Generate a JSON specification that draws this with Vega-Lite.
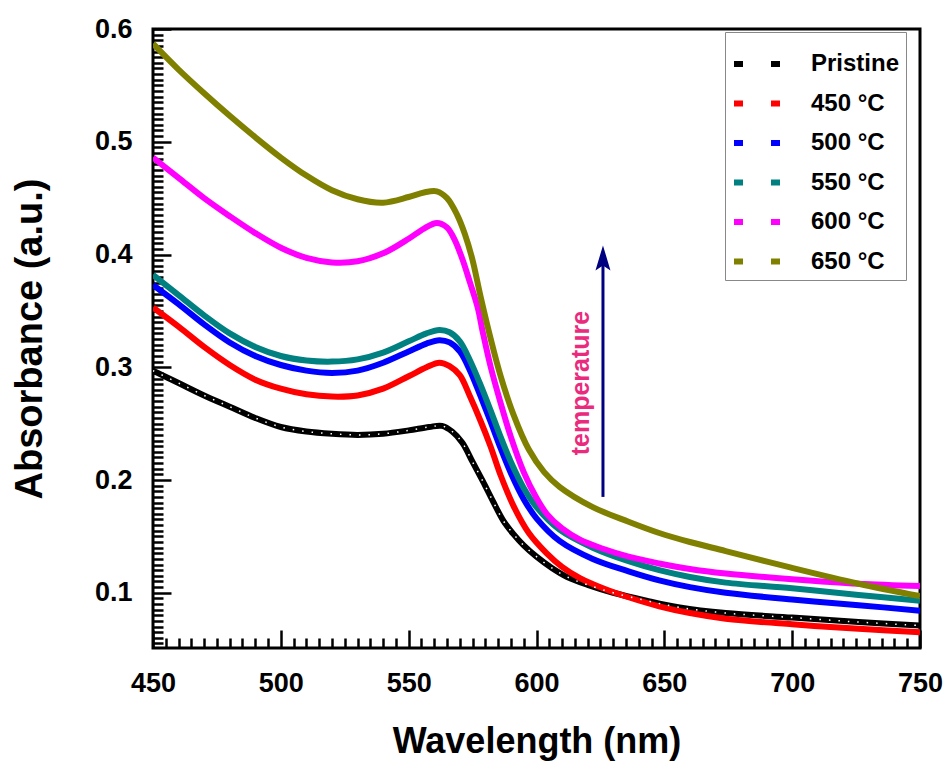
{
  "$schema": "https://vega.github.io/schema/vega-lite/v6.json",
  "width": 767,
  "height": 619,
  "autosize": {"type": "none"},
  "padding": {"left": 153, "top": 29, "right": 27, "bottom": 116},
  "background": "white",
  "config": {
    "view": {"stroke": "black", "strokeWidth": 3},
    "font": "Liberation Sans"
  },
  "datasets": {
    "curves": [
      {"s": "Pristine", "x": 450, "y": 0.297}, {"s": "Pristine", "x": 460, "y": 0.286}, {"s": "Pristine", "x": 470, "y": 0.275}, {"s": "Pristine", "x": 480, "y": 0.265}, {"s": "Pristine", "x": 490, "y": 0.255}, {"s": "Pristine", "x": 500, "y": 0.247}, {"s": "Pristine", "x": 510, "y": 0.243}, {"s": "Pristine", "x": 520, "y": 0.241}, {"s": "Pristine", "x": 530, "y": 0.240}, {"s": "Pristine", "x": 540, "y": 0.241}, {"s": "Pristine", "x": 550, "y": 0.244}, {"s": "Pristine", "x": 558, "y": 0.247}, {"s": "Pristine", "x": 563, "y": 0.248}, {"s": "Pristine", "x": 567, "y": 0.243}, {"s": "Pristine", "x": 571, "y": 0.233}, {"s": "Pristine", "x": 575, "y": 0.216}, {"s": "Pristine", "x": 579, "y": 0.199}, {"s": "Pristine", "x": 583, "y": 0.181}, {"s": "Pristine", "x": 587, "y": 0.164}, {"s": "Pristine", "x": 591, "y": 0.152}, {"s": "Pristine", "x": 595, "y": 0.142}, {"s": "Pristine", "x": 600, "y": 0.132}, {"s": "Pristine", "x": 606, "y": 0.122}, {"s": "Pristine", "x": 612, "y": 0.114}, {"s": "Pristine", "x": 620, "y": 0.107}, {"s": "Pristine", "x": 630, "y": 0.100}, {"s": "Pristine", "x": 643, "y": 0.093}, {"s": "Pristine", "x": 656, "y": 0.087}, {"s": "Pristine", "x": 674, "y": 0.082}, {"s": "Pristine", "x": 700, "y": 0.078}, {"s": "Pristine", "x": 726, "y": 0.074}, {"s": "Pristine", "x": 750, "y": 0.071},

      {"s": "450 °C", "x": 450, "y": 0.353}, {"s": "450 °C", "x": 460, "y": 0.336}, {"s": "450 °C", "x": 470, "y": 0.318}, {"s": "450 °C", "x": 480, "y": 0.302}, {"s": "450 °C", "x": 490, "y": 0.289}, {"s": "450 °C", "x": 500, "y": 0.281}, {"s": "450 °C", "x": 510, "y": 0.276}, {"s": "450 °C", "x": 520, "y": 0.274}, {"s": "450 °C", "x": 530, "y": 0.275}, {"s": "450 °C", "x": 540, "y": 0.281}, {"s": "450 °C", "x": 550, "y": 0.292}, {"s": "450 °C", "x": 557, "y": 0.300}, {"s": "450 °C", "x": 562, "y": 0.304}, {"s": "450 °C", "x": 566, "y": 0.301}, {"s": "450 °C", "x": 570, "y": 0.293}, {"s": "450 °C", "x": 574, "y": 0.274}, {"s": "450 °C", "x": 578, "y": 0.253}, {"s": "450 °C", "x": 582, "y": 0.230}, {"s": "450 °C", "x": 586, "y": 0.204}, {"s": "450 °C", "x": 591, "y": 0.177}, {"s": "450 °C", "x": 597, "y": 0.153}, {"s": "450 °C", "x": 604, "y": 0.135}, {"s": "450 °C", "x": 610, "y": 0.123}, {"s": "450 °C", "x": 617, "y": 0.113}, {"s": "450 °C", "x": 626, "y": 0.104}, {"s": "450 °C", "x": 636, "y": 0.096}, {"s": "450 °C", "x": 648, "y": 0.088}, {"s": "450 °C", "x": 660, "y": 0.082}, {"s": "450 °C", "x": 674, "y": 0.077}, {"s": "450 °C", "x": 700, "y": 0.072}, {"s": "450 °C", "x": 726, "y": 0.068}, {"s": "450 °C", "x": 750, "y": 0.065},

      {"s": "500 °C", "x": 450, "y": 0.373}, {"s": "500 °C", "x": 460, "y": 0.356}, {"s": "500 °C", "x": 470, "y": 0.338}, {"s": "500 °C", "x": 480, "y": 0.322}, {"s": "500 °C", "x": 490, "y": 0.310}, {"s": "500 °C", "x": 500, "y": 0.302}, {"s": "500 °C", "x": 510, "y": 0.297}, {"s": "500 °C", "x": 520, "y": 0.295}, {"s": "500 °C", "x": 530, "y": 0.297}, {"s": "500 °C", "x": 540, "y": 0.304}, {"s": "500 °C", "x": 550, "y": 0.314}, {"s": "500 °C", "x": 557, "y": 0.321}, {"s": "500 °C", "x": 562, "y": 0.324}, {"s": "500 °C", "x": 566, "y": 0.322}, {"s": "500 °C", "x": 570, "y": 0.314}, {"s": "500 °C", "x": 574, "y": 0.297}, {"s": "500 °C", "x": 578, "y": 0.275}, {"s": "500 °C", "x": 582, "y": 0.252}, {"s": "500 °C", "x": 586, "y": 0.228}, {"s": "500 °C", "x": 590, "y": 0.206}, {"s": "500 °C", "x": 595, "y": 0.183}, {"s": "500 °C", "x": 600, "y": 0.166}, {"s": "500 °C", "x": 609, "y": 0.146}, {"s": "500 °C", "x": 622, "y": 0.130}, {"s": "500 °C", "x": 636, "y": 0.119}, {"s": "500 °C", "x": 648, "y": 0.111}, {"s": "500 °C", "x": 660, "y": 0.105}, {"s": "500 °C", "x": 674, "y": 0.100}, {"s": "500 °C", "x": 700, "y": 0.094}, {"s": "500 °C", "x": 726, "y": 0.089}, {"s": "500 °C", "x": 750, "y": 0.084},

      {"s": "550 °C", "x": 450, "y": 0.382}, {"s": "550 °C", "x": 460, "y": 0.364}, {"s": "550 °C", "x": 470, "y": 0.346}, {"s": "550 °C", "x": 480, "y": 0.330}, {"s": "550 °C", "x": 490, "y": 0.318}, {"s": "550 °C", "x": 500, "y": 0.310}, {"s": "550 °C", "x": 510, "y": 0.306}, {"s": "550 °C", "x": 520, "y": 0.305}, {"s": "550 °C", "x": 530, "y": 0.307}, {"s": "550 °C", "x": 540, "y": 0.313}, {"s": "550 °C", "x": 550, "y": 0.323}, {"s": "550 °C", "x": 557, "y": 0.330}, {"s": "550 °C", "x": 562, "y": 0.333}, {"s": "550 °C", "x": 566, "y": 0.331}, {"s": "550 °C", "x": 570, "y": 0.323}, {"s": "550 °C", "x": 574, "y": 0.306}, {"s": "550 °C", "x": 578, "y": 0.285}, {"s": "550 °C", "x": 582, "y": 0.262}, {"s": "550 °C", "x": 586, "y": 0.238}, {"s": "550 °C", "x": 590, "y": 0.216}, {"s": "550 °C", "x": 595, "y": 0.193}, {"s": "550 °C", "x": 600, "y": 0.176}, {"s": "550 °C", "x": 609, "y": 0.156}, {"s": "550 °C", "x": 622, "y": 0.140}, {"s": "550 °C", "x": 636, "y": 0.128}, {"s": "550 °C", "x": 648, "y": 0.120}, {"s": "550 °C", "x": 660, "y": 0.114}, {"s": "550 °C", "x": 674, "y": 0.109}, {"s": "550 °C", "x": 700, "y": 0.104}, {"s": "550 °C", "x": 726, "y": 0.098}, {"s": "550 °C", "x": 750, "y": 0.093},

      {"s": "600 °C", "x": 450, "y": 0.486}, {"s": "600 °C", "x": 460, "y": 0.468}, {"s": "600 °C", "x": 470, "y": 0.450}, {"s": "600 °C", "x": 480, "y": 0.434}, {"s": "600 °C", "x": 490, "y": 0.419}, {"s": "600 °C", "x": 500, "y": 0.406}, {"s": "600 °C", "x": 510, "y": 0.397}, {"s": "600 °C", "x": 520, "y": 0.393}, {"s": "600 °C", "x": 530, "y": 0.394}, {"s": "600 °C", "x": 540, "y": 0.401}, {"s": "600 °C", "x": 550, "y": 0.414}, {"s": "600 °C", "x": 556, "y": 0.423}, {"s": "600 °C", "x": 561, "y": 0.428}, {"s": "600 °C", "x": 565, "y": 0.424}, {"s": "600 °C", "x": 568, "y": 0.413}, {"s": "600 °C", "x": 571, "y": 0.396}, {"s": "600 °C", "x": 574, "y": 0.375}, {"s": "600 °C", "x": 577, "y": 0.353}, {"s": "600 °C", "x": 579, "y": 0.331}, {"s": "600 °C", "x": 582, "y": 0.301}, {"s": "600 °C", "x": 586, "y": 0.268}, {"s": "600 °C", "x": 590, "y": 0.238}, {"s": "600 °C", "x": 595, "y": 0.207}, {"s": "600 °C", "x": 600, "y": 0.184}, {"s": "600 °C", "x": 604, "y": 0.170}, {"s": "600 °C", "x": 610, "y": 0.157}, {"s": "600 °C", "x": 617, "y": 0.147}, {"s": "600 °C", "x": 626, "y": 0.139}, {"s": "600 °C", "x": 636, "y": 0.132}, {"s": "600 °C", "x": 648, "y": 0.126}, {"s": "600 °C", "x": 660, "y": 0.121}, {"s": "600 °C", "x": 674, "y": 0.117}, {"s": "600 °C", "x": 700, "y": 0.112}, {"s": "600 °C", "x": 726, "y": 0.108}, {"s": "600 °C", "x": 750, "y": 0.106},

      {"s": "650 °C", "x": 450, "y": 0.587}, {"s": "650 °C", "x": 460, "y": 0.564}, {"s": "650 °C", "x": 470, "y": 0.543}, {"s": "650 °C", "x": 480, "y": 0.523}, {"s": "650 °C", "x": 490, "y": 0.504}, {"s": "650 °C", "x": 500, "y": 0.486}, {"s": "650 °C", "x": 510, "y": 0.470}, {"s": "650 °C", "x": 520, "y": 0.457}, {"s": "650 °C", "x": 530, "y": 0.449}, {"s": "650 °C", "x": 540, "y": 0.446}, {"s": "650 °C", "x": 550, "y": 0.451}, {"s": "650 °C", "x": 556, "y": 0.455}, {"s": "650 °C", "x": 561, "y": 0.456}, {"s": "650 °C", "x": 565, "y": 0.450}, {"s": "650 °C", "x": 569, "y": 0.435}, {"s": "650 °C", "x": 572, "y": 0.418}, {"s": "650 °C", "x": 575, "y": 0.395}, {"s": "650 °C", "x": 578, "y": 0.364}, {"s": "650 °C", "x": 582, "y": 0.326}, {"s": "650 °C", "x": 586, "y": 0.292}, {"s": "650 °C", "x": 591, "y": 0.258}, {"s": "650 °C", "x": 597, "y": 0.227}, {"s": "650 °C", "x": 603, "y": 0.207}, {"s": "650 °C", "x": 609, "y": 0.194}, {"s": "650 °C", "x": 622, "y": 0.176}, {"s": "650 °C", "x": 636, "y": 0.163}, {"s": "650 °C", "x": 648, "y": 0.153}, {"s": "650 °C", "x": 660, "y": 0.145}, {"s": "650 °C", "x": 674, "y": 0.137}, {"s": "650 °C", "x": 700, "y": 0.122}, {"s": "650 °C", "x": 726, "y": 0.108}, {"s": "650 °C", "x": 750, "y": 0.097}
    ],
    "arrow": [{"x": 626, "y0": 0.185, "y1": 0.392}],
    "head": [{"x": 626, "y": 0.397}],
    "label": [{"x": 617.6, "y": 0.286, "t": "temperature"}]
  },
  "layer": [
    {
      "data": {"name": "curves"},
      "mark": {"type": "line", "strokeWidth": 6, "interpolate": "catmull-rom", "clip": true},
      "encoding": {
        "x": {
          "field": "x", "type": "quantitative",
          "scale": {"domain": [450, 750], "nice": false, "zero": false},
          "axis": {
            "values": [450, 500, 550, 600, 650, 700, 750],
            "offset": -18, "tickSize": 18, "tickWidth": 2.5, "tickColor": "black",
            "domain": false, "grid": false,
            "labelFontSize": 27, "labelFontWeight": "bold", "labelFont": "Liberation Sans", "labelColor": "black",
            "labelPadding": 22, "labelFlush": false, "labelOverlap": false,
            "title": "Wavelength (nm)", "titleFontSize": 36, "titleFont": "Liberation Sans", "titleFontWeight": "bold", "titleColor": "black", "titlePadding": 28
          }
        },
        "y": {
          "field": "y", "type": "quantitative",
          "scale": {"domain": [0.051, 0.6], "nice": false, "zero": false},
          "axis": {
            "values": [0.1, 0.2, 0.3, 0.4, 0.5, 0.6], "format": ".1f",
            "offset": -18, "tickSize": 18, "tickWidth": 2.5, "tickColor": "black",
            "domain": false, "grid": false,
            "labelFontSize": 27, "labelFontWeight": "bold", "labelFont": "Liberation Sans", "labelColor": "black",
            "labelPadding": 21, "labelFlush": false, "labelOverlap": false,
            "title": "Absorbance (a.u.)", "titleFontSize": 38, "titleFont": "Liberation Sans", "titleFontWeight": "bold", "titleColor": "black", "titlePadding": 45
          }
        },
        "color": {
          "field": "s", "type": "nominal",
          "sort": ["Pristine", "450 °C", "500 °C", "550 °C", "600 °C", "650 °C"],
          "scale": {
            "domain": ["Pristine", "450 °C", "500 °C", "550 °C", "600 °C", "650 °C"],
            "range": ["#000000", "#ff0000", "#0000ff", "#008080", "#ff00ff", "#808000"]
          },
          "legend": {
            "orient": "none", "legendX": 572, "legendY": 3,
            "title": null,
            "padding": 6, "strokeColor": "#888888", "fillColor": "white",
            "symbolType": "stroke", "symbolSize": 2116, "symbolStrokeWidth": 6, "symbolDash": [9, 28, 9],
            "labelFontSize": 24, "labelFontWeight": "bold", "labelFont": "Liberation Sans", "labelColor": "black",
            "labelOffset": 28, "rowPadding": 1.5
          }
        }
      }
    },
    {
      "data": {"name": "curves"},
      "transform": [{"filter": "datum.s === 'Pristine'"}],
      "mark": {"type": "line", "strokeWidth": 1.5, "color": "white", "strokeDash": [1.5, 8], "interpolate": "catmull-rom", "clip": true},
      "encoding": {
        "x": {
          "field": "x", "type": "quantitative",
          "scale": {"domain": [450, 750], "nice": false, "zero": false},
          "axis": {
            "orient": "bottom",
            "values": [455, 460, 465, 470, 475, 480, 485, 490, 495, 505, 510, 515, 520, 525, 530, 535, 540, 545, 555, 560, 565, 570, 575, 580, 585, 590, 595, 605, 610, 615, 620, 625, 630, 635, 640, 645, 655, 660, 665, 670, 675, 680, 685, 690, 695, 705, 710, 715, 720, 725, 730, 735, 740, 745],
            "offset": -10, "tickSize": 10, "tickWidth": 2.5, "tickColor": "black",
            "domain": false, "grid": false, "labels": false, "title": null
          }
        },
        "y": {
          "field": "y", "type": "quantitative",
          "scale": {"domain": [0.051, 0.6], "nice": false, "zero": false},
          "axis": {
            "orient": "left",
            "values": [0.055, 0.06, 0.065, 0.07, 0.075, 0.08, 0.085, 0.09, 0.095, 0.105, 0.11, 0.115, 0.12, 0.125, 0.13, 0.135, 0.14, 0.145, 0.15, 0.155, 0.16, 0.165, 0.17, 0.175, 0.18, 0.185, 0.19, 0.195, 0.205, 0.21, 0.215, 0.22, 0.225, 0.23, 0.235, 0.24, 0.245, 0.25, 0.255, 0.26, 0.265, 0.27, 0.275, 0.28, 0.285, 0.29, 0.295, 0.305, 0.31, 0.315, 0.32, 0.325, 0.33, 0.335, 0.34, 0.345, 0.35, 0.355, 0.36, 0.365, 0.37, 0.375, 0.38, 0.385, 0.39, 0.395, 0.405, 0.41, 0.415, 0.42, 0.425, 0.43, 0.435, 0.44, 0.445, 0.45, 0.455, 0.46, 0.465, 0.47, 0.475, 0.48, 0.485, 0.49, 0.495, 0.505, 0.51, 0.515, 0.52, 0.525, 0.53, 0.535, 0.54, 0.545, 0.55, 0.555, 0.56, 0.565, 0.57, 0.575, 0.58, 0.585, 0.59, 0.595],
            "offset": -10, "tickSize": 10, "tickWidth": 2.5, "tickColor": "black",
            "domain": false, "grid": false, "labels": false, "title": null
          }
        }
      }
    },
    {
      "data": {"name": "arrow"},
      "mark": {"type": "rule", "color": "#000080", "strokeWidth": 3},
      "encoding": {
        "x": {"field": "x", "type": "quantitative", "scale": {"domain": [450, 750], "nice": false, "zero": false}, "axis": null},
        "y": {"field": "y0", "type": "quantitative", "scale": {"domain": [0.051, 0.6], "nice": false, "zero": false}, "axis": null},
        "y2": {"field": "y1"}
      }
    },
    {
      "data": {"name": "head"},
      "mark": {"type": "point", "shape": "M0,-1L0.6,1L0,0.6L-0.6,1Z", "size": 625, "filled": true, "color": "#000080", "opacity": 1},
      "encoding": {
        "x": {"field": "x", "type": "quantitative", "scale": {"domain": [450, 750], "nice": false, "zero": false}, "axis": null},
        "y": {"field": "y", "type": "quantitative", "scale": {"domain": [0.051, 0.6], "nice": false, "zero": false}, "axis": null}
      }
    },
    {
      "data": {"name": "label"},
      "mark": {"type": "text", "angle": 270, "align": "center", "baseline": "middle", "fontSize": 25, "fontWeight": "bold", "font": "Liberation Sans", "color": "#ea2a7d"},
      "encoding": {
        "x": {"field": "x", "type": "quantitative", "scale": {"domain": [450, 750], "nice": false, "zero": false}, "axis": null},
        "y": {"field": "y", "type": "quantitative", "scale": {"domain": [0.051, 0.6], "nice": false, "zero": false}, "axis": null},
        "text": {"field": "t"}
      }
    }
  ],
  "resolve": {"axis": {"x": "independent", "y": "independent"}}
}
